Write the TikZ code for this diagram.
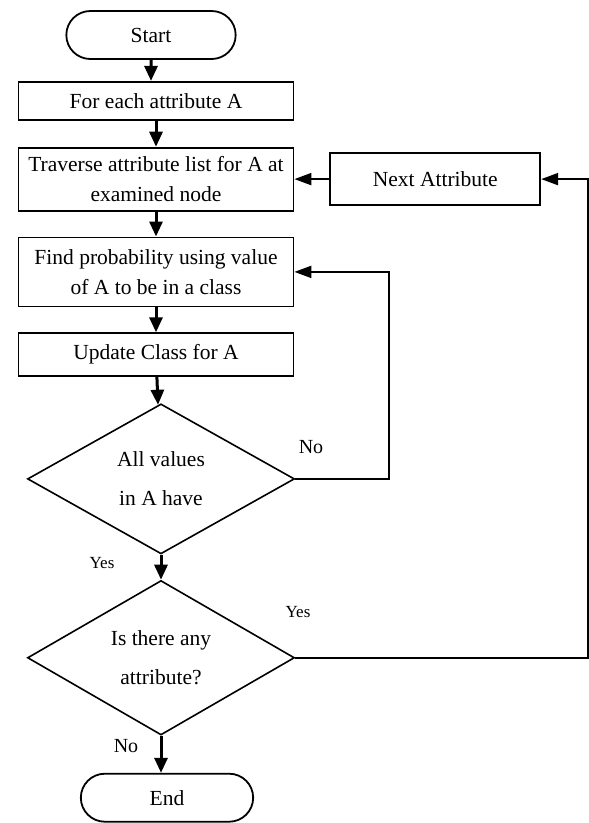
\documentclass[tikz,border=0pt]{standalone}
\usepackage{fontspec}
\setmainfont{Liberation Serif}
\usetikzlibrary{arrows.meta,positioning,shapes.geometric,shapes.misc}
\tikzstyle{terminal} = [rounded rectangle, draw, line width=1.8pt, minimum width=176pt, minimum height=48pt, font=\fontsize{21.5}{30}\selectfont]
\tikzstyle{process} = [rectangle, draw, line width=1.8pt, minimum width=275pt, align=center, inner sep=3pt, font=\fontsize{21.5}{30}\selectfont]
\tikzstyle{decision} = [diamond, draw, line width=1.6pt, minimum width=267pt, minimum height=150pt, inner sep=0pt, align=center, font=\fontsize{21.5}{39}\selectfont]
\tikzstyle{arrow} = [line width=3pt, -{Triangle[length=15pt,width=13pt]}]
\tikzstyle{line} = [line width=2pt, -{Triangle[length=17pt,width=12pt]}]
\tikzstyle{small} = [font=\fontsize{17}{20}\selectfont]
\tikzstyle{mid} = [font=\fontsize{20}{24}\selectfont]

\begin{document}
\begin{tikzpicture}[x=1pt,y=-1pt,node distance=25pt]
\useasboundingbox (0,0) rectangle (589,823);
\node (start) [terminal] at (151,35) {Start};
\node (each) [process, minimum height=38pt, below=21pt of start, xshift=5pt] {For each attribute A};
\node (trav) [process, minimum height=63pt, below=26pt of each] {Traverse attribute list for A at\\examined node};
\node (next) [process, minimum width=210pt, minimum height=52pt, right=35pt of trav] {Next Attribute};
\node (find) [process, minimum height=69pt, below=of trav] {Find probability using value\\of A to be in a class};
\node (update) [process, minimum height=43pt, below=of find] {Update Class for A};
\node (dia1) [decision, below=26pt of update, xshift=5pt] {All values\\in A have};
\node (dia2) [decision, minimum height=152pt, below=of dia1] {Is there any\\attribute?};
\node (end) [terminal, minimum width=179pt, below=37pt of dia2, xshift=6pt] {End};

\node (no1) [mid] at (311,447) {No};
\node (yes1) [small] at (102,563) {Yes};
\node (yes2) [small] at (298,612) {Yes};
\node (no2) [mid] at (126,746) {No};

\draw [arrow] (start) -- (start |- each.north);
\draw [arrow] (each) -- (trav);
\draw [arrow] (trav) -- (find);
\draw [arrow] (find) -- (update);
\draw [arrow] (update) -- (dia1);
\draw [arrow] (dia1) -- (dia2);
\draw [arrow] (dia2) -- (dia2 |- end.north);
\draw [line] (dia1.east) -- ++(94,0) |- (find.east);
\draw [line] (dia2.east) -- ++(293,0) |- (next.east);
\draw [line] (next) -- (trav);
\end{tikzpicture}
\end{document}
